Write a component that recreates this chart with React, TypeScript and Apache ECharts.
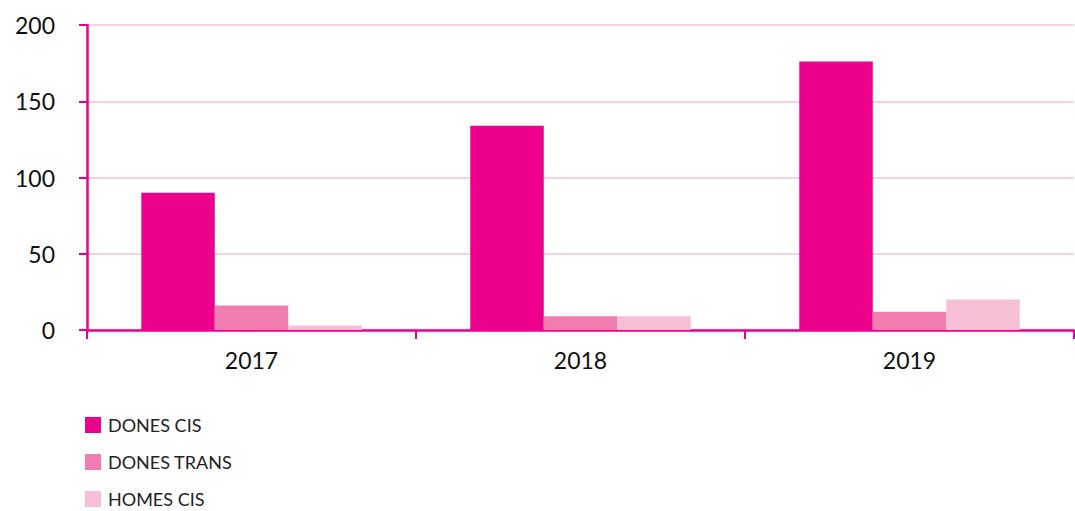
import React, { useEffect, useRef } from "react";
import * as echarts from "echarts";

const categories = ["2017", "2018", "2019"];
const seriesNames = ["DONES CIS", "DONES TRANS", "HOMES CIS"];
const donesCis = [90, 134, 176];
const donesTrans = [16, 9, 12];
const homesCis = [3, 9, 20];
const yTicks = { min: 0, max: 200, interval: 50 };
const colors = ["#EC008C", "#F07DAF", "#F7BED8"];

export default function App() {
  const ref = useRef<HTMLDivElement>(null);
  useEffect(() => {
    if (!ref.current) return;
    const chart = echarts.init(ref.current, undefined, { renderer: "svg" });
    const font = "Lato, 'Noto Sans', sans-serif";
    const data = [donesCis, donesTrans, homesCis];
    chart.setOption({
      animation: false,
      color: colors,
      textStyle: { fontFamily: font },
      grid: { left: 87, right: 1, top: 25, bottom: 181, containLabel: false },
      legend: seriesNames.map((name, i) => ({
        orient: "vertical",
        left: 85,
        top: 416 + i * 37,
        padding: 0,
        itemWidth: 16,
        itemHeight: 16,
        icon: "rect",
        data: [name],
        textStyle: { fontSize: 18, color: "#222", fontFamily: font, padding: [0, 0, 0, 2] },
      })),
      xAxis: {
        type: "category",
        data: categories,
        axisLine: { lineStyle: { color: "#EC008C", width: 2.5 } },
        axisTick: { show: true, length: 9, lineStyle: { color: "#EC008C", width: 2 } },
        axisLabel: { fontSize: 23, color: "#111", margin: 18, fontFamily: font },
      },
      yAxis: {
        type: "value",
        min: yTicks.min,
        max: yTicks.max,
        interval: yTicks.interval,
        axisLine: { show: true, lineStyle: { color: "#EC008C", width: 2.5 } },
        axisTick: { show: true, length: 8, lineStyle: { color: "#EC008C", width: 2 } },
        axisLabel: { fontSize: 23, color: "#111", margin: 32, fontFamily: font },
        splitLine: { lineStyle: { color: "#F9C0DB", width: 1.5 } },
      },
      series: seriesNames.map((name, i) => ({
        name,
        type: "bar",
        data: data[i],
        barGap: "0%",
        barCategoryGap: "33%",
        itemStyle: { color: colors[i] },
      })),
    });
    return () => chart.dispose();
  }, []);
  return (
    <div
      ref={ref}
      style={{ position: "fixed", left: 0, top: 0, width: 1075, height: 511, background: "#fff" }}
    />
  );
}
